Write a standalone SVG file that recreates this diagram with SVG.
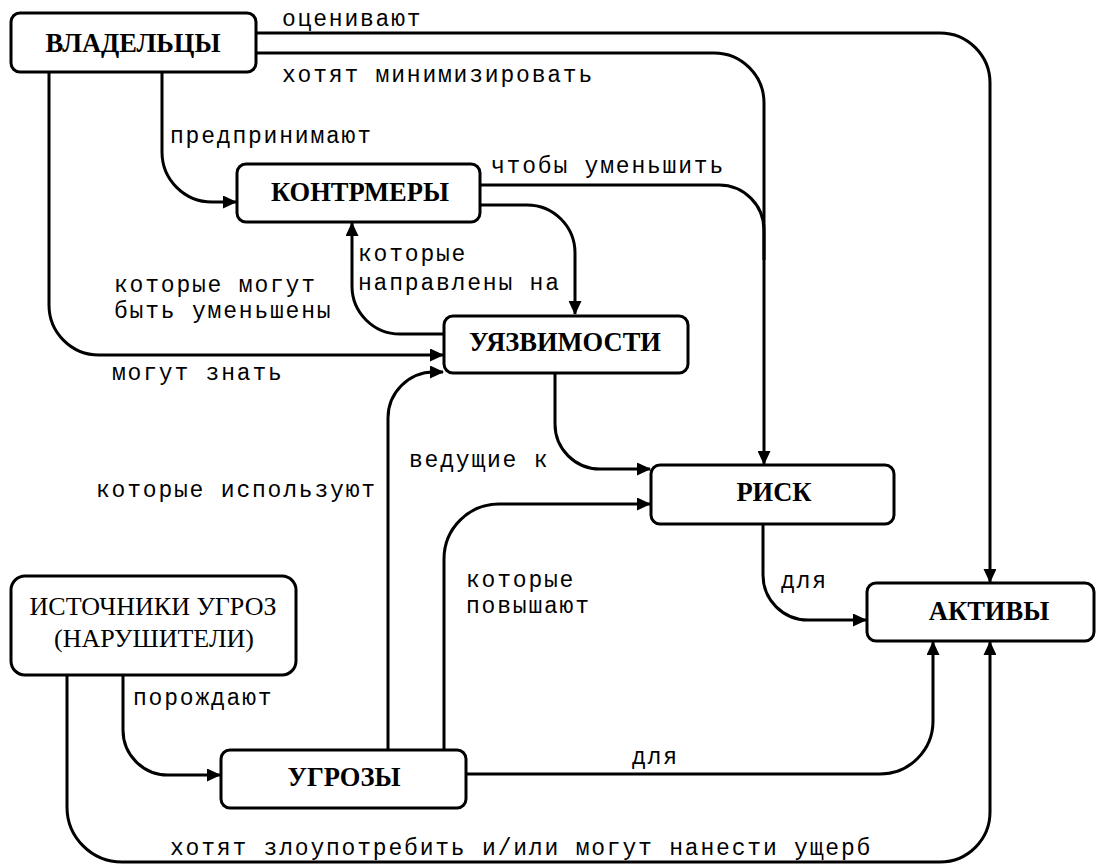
<svg xmlns="http://www.w3.org/2000/svg" width="1104" height="864" viewBox="0 0 1104 864">
<defs>
<style>
.box{fill:#fff;stroke:#000;stroke-width:3}
.conn path{fill:none;stroke:#000;stroke-width:3;marker-end:url(#arr)}
.conn path.plain{marker-end:none}
.nt{font-family:"Liberation Serif","Times New Roman",serif;font-weight:bold;font-size:26.5px;text-anchor:middle;fill:#000}
.nr{font-family:"Liberation Serif","Times New Roman",serif;font-size:26px;text-anchor:middle;fill:#000}
.lb{font-family:"Liberation Mono","Courier New",monospace;font-size:23px;letter-spacing:1.8px;fill:#000}
</style>
<marker id="arr" markerUnits="userSpaceOnUse" viewBox="0 0 14 13" refX="13" refY="6.5" markerWidth="14" markerHeight="13" orient="auto">
<path d="M0,0 L14,6.5 L0,13 z" fill="#000"/>
</marker>
</defs>
<rect width="1104" height="864" fill="#fff"/>
<g id="connectors" class="conn">
<path d="M256,33 H940 A50,50 0 0 1 990,83 V582"/>
<path d="M256,53 H714 A50,50 0 0 1 764,103 V464"/>
<path class="plain" d="M480,185 H719 A45,45 0 0 1 764,230 V260"/>
<path d="M480,205 H527 A48,48 0 0 1 575,253 V314"/>
<path d="M162,72 V152 A50,50 0 0 0 212,202 H236"/>
<path d="M49,72 V305 A50,50 0 0 0 99,355 H443"/>
<path d="M444,334 H400 A48,48 0 0 1 352,286 V223"/>
<path d="M388,750 V418 A46,46 0 0 1 434,372 H443"/>
<path d="M555,373 V424 A45,45 0 0 0 600,469 H650"/>
<path d="M444,750 V559 A55,55 0 0 1 499,504 H650"/>
<path d="M763,524 V575 A45,45 0 0 0 808,620 H866"/>
<path d="M466,774 H880 A53,53 0 0 0 933,721 V642"/>
<path d="M67,675 V807 A55,55 0 0 0 122,862 H940 A50,50 0 0 0 990,812 V642"/>
<path d="M123,675 V730 A45,45 0 0 0 168,775 H220"/>
</g>
<g id="labels">
<text class="lb" x="282" y="26">оценивают</text>
<text class="lb" x="282" y="82">хотят минимизировать</text>
<text class="lb" x="170" y="143">предпринимают</text>
<text class="lb" x="491" y="173">чтобы уменьшить</text>
<text class="lb" x="358" y="261">которые</text>
<text class="lb" x="358" y="290">направлены на</text>
<text class="lb" x="114" y="292">которые могут</text>
<text class="lb" x="114" y="318">быть уменьшены</text>
<text class="lb" x="112" y="380">могут знать</text>
<text class="lb" x="409" y="467">ведущие к</text>
<text class="lb" x="96" y="497">которые используют</text>
<text class="lb" x="466" y="587">которые</text>
<text class="lb" x="466" y="613">повышают</text>
<text class="lb" x="781" y="588">для</text>
<text class="lb" x="133" y="705">порождают</text>
<text class="lb" x="632" y="764">для</text>
<text class="lb" x="170" y="855">хотят злоупотребить и/или могут нанести ущерб</text>
</g>
<g id="owners">
<rect class="box" x="11" y="13" width="245" height="59" rx="9"/>
<text class="nt" x="133" y="52">ВЛАДЕЛЬЦЫ</text>
</g>
<g id="countermeasures">
<rect class="box" x="237" y="164" width="243" height="58" rx="9"/>
<text class="nt" x="360" y="201">КОНТРМЕРЫ</text>
</g>
<g id="vulnerabilities">
<rect class="box" x="444" y="316" width="244" height="57" rx="9"/>
<text class="nt" x="565" y="351">УЯЗВИМОСТИ</text>
</g>
<g id="risk">
<rect class="box" x="651" y="465" width="243" height="59" rx="9"/>
<text class="nt" x="774" y="501">РИСК</text>
</g>
<g id="assets">
<rect class="box" x="867" y="583" width="227" height="58" rx="9"/>
<text class="nt" x="989" y="620">АКТИВЫ</text>
</g>
<g id="threat-sources">
<rect class="box" x="11" y="576" width="285" height="99" rx="14"/>
<text class="nr" x="153" y="615">ИСТОЧНИКИ УГРОЗ</text>
<text class="nr" x="154" y="647">(НАРУШИТЕЛИ)</text>
</g>
<g id="threats">
<rect class="box" x="221" y="750" width="245" height="58" rx="9"/>
<text class="nt" x="344" y="786">УГРОЗЫ</text>
</g>
</svg>
